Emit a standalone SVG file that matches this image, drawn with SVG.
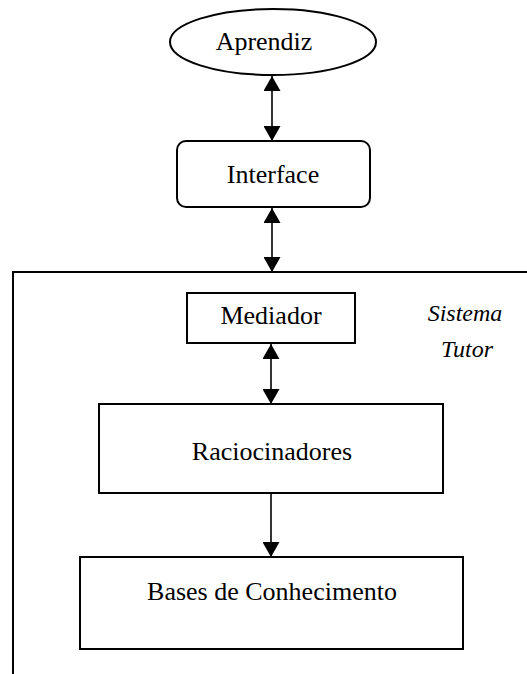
<svg xmlns="http://www.w3.org/2000/svg" width="527" height="674" viewBox="0 0 527 674">
  <style>
    .shape { fill: #ffffff; stroke: #000000; stroke-width: 2; }
    .frame { fill: none; stroke: #000000; stroke-width: 2; }
    .label { font-family: "Liberation Serif", "Times New Roman", serif; font-size: 26px; fill: #000000; text-anchor: middle; }
    .note { font-family: "Liberation Serif", "Times New Roman", serif; font-size: 24px; font-style: italic; fill: #000000; text-anchor: middle; }
    .link { fill: none; stroke: #000000; stroke-width: 1.6; }
  </style>
  <defs>
    <marker id="head" viewBox="0 0 15 17" refX="15" refY="8.5" markerWidth="15" markerHeight="17" markerUnits="userSpaceOnUse" orient="auto-start-reverse">
      <path d="M0,0 L15,8.5 L0,17 z" fill="#000000"/>
    </marker>
  </defs>

  <rect width="527" height="674" fill="#ffffff"/>

  <!-- Tutoring system boundary (open frame: top and left edges) -->
  <g id="sistema-tutor">
    <path class="frame" d="M13,674 L13,272 L527,272"/>
    <text class="note" x="465" y="321">Sistema</text>
    <text class="note" x="467" y="357">Tutor</text>
  </g>

  <g id="aprendiz">
    <ellipse class="shape" cx="273" cy="42" rx="103" ry="33"/>
    <text class="label" x="264" y="50">Aprendiz</text>
  </g>

  <g id="interface">
    <rect class="shape" x="177" y="141" width="193" height="66" rx="9" ry="9"/>
    <text class="label" x="273" y="183">Interface</text>
  </g>

  <g id="mediador">
    <rect class="shape" x="187" y="293" width="168" height="50"/>
    <text class="label" x="271" y="324">Mediador</text>
  </g>

  <g id="raciocinadores">
    <rect class="shape" x="99" y="404" width="344" height="89"/>
    <text class="label" x="272" y="460">Raciocinadores</text>
  </g>

  <g id="bases-conhecimento">
    <rect class="shape" x="80" y="557" width="383" height="92"/>
    <text class="label" x="272" y="600">Bases de Conhecimento</text>
  </g>

  <g id="connectors">
    <line class="link" x1="272" y1="76" x2="272" y2="141" marker-start="url(#head)" marker-end="url(#head)"/>
    <line class="link" x1="272" y1="208" x2="272" y2="272" marker-start="url(#head)" marker-end="url(#head)"/>
    <line class="link" x1="271" y1="344" x2="271" y2="404" marker-start="url(#head)" marker-end="url(#head)"/>
    <line class="link" x1="271" y1="494" x2="271" y2="557" marker-end="url(#head)"/>
  </g>
</svg>
